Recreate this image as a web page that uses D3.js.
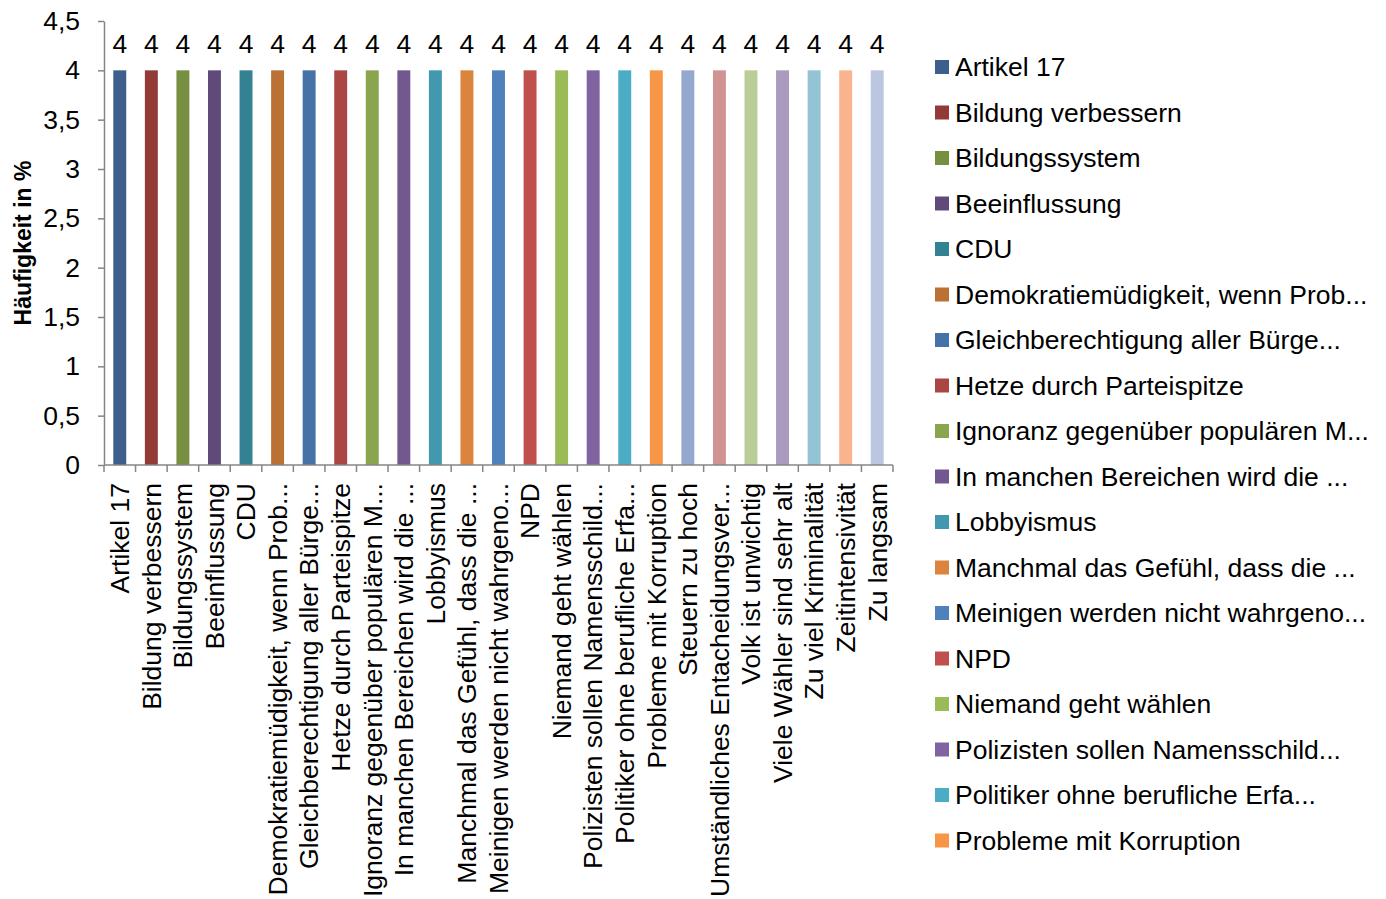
<!DOCTYPE html>
<html>
<head>
<meta charset="utf-8">
<script src="https://cdn.jsdelivr.net/npm/d3@7"></script>
<style>
  body { margin: 0; background: #fff; }
  svg { font-family: "Liberation Sans", Arial, sans-serif; }
</style>
</head>
<body>
<div id="chart"></div>
<script>
(function(){

  // categories as shown on the axis (Excel truncated the long ones)
  var categories = [
    "Artikel 17", "Bildung verbessern", "Bildungssystem", "Beeinflussung", "CDU",
    "Demokratiemüdigkeit, wenn Prob...", "Gleichberechtigung aller Bürge...",
    "Hetze durch Parteispitze", "Ignoranz gegenüber populären M...",
    "In manchen Bereichen wird die ...", "Lobbyismus", "Manchmal das Gefühl, dass die ...",
    "Meinigen werden nicht wahrgeno...", "NPD", "Niemand geht wählen",
    "Polizisten sollen Namensschild...", "Politiker ohne berufliche Erfa...",
    "Probleme mit Korruption", "Steuern zu hoch", "Umständliches Entacheidungsver...",
    "Volk ist unwichtig", "Viele Wähler sind sehr alt", "Zu viel Kriminalität",
    "Zeitintensivität", "Zu langsam"
  ];
  var values = [4, 4, 4, 4, 4, 4, 4, 4, 4, 4, 4, 4, 4, 4, 4, 4, 4, 4, 4, 4, 4, 4, 4, 4, 4];
  var colors = [
    "#3c5f8c", "#923a38", "#778f40", "#5f4a7a", "#358194",
    "#ba7133", "#4572a7", "#aa4643", "#89a54e", "#71588f",
    "#4198af", "#db843d", "#4f81bd", "#c0504d", "#9bbb59",
    "#8064a2", "#4bacc6", "#f79646", "#95a9d0", "#d19392",
    "#bacd96", "#aa9abd", "#93c3d4", "#f9b48d", "#bbc7e0"
  ];
  var yTicks = [0, 0.5, 1, 1.5, 2, 2.5, 3, 3.5, 4, 4.5];
  var legendCount = 18; // only the first 18 entries fit in the legend

  var fontSize = "26.5px";

  var margin = {top: 21, left: 104},
      width = 893 - 104,
      height = 465 - 21;

  var svg = d3.select("#chart").append("svg")
      .attr("width", 1386)
      .attr("height", 899);

  var g = svg.append("g")
      .attr("transform", "translate(" + margin.left + "," + margin.top + ")");

  var x = d3.scaleBand().domain(categories).range([0, width]).paddingInner(0).paddingOuter(0);
  var y = d3.scaleLinear().domain([0, 4.5]).range([height, 0]);
  var color = d3.scaleOrdinal().domain(categories).range(colors);

  var fmt = function(d) { return String(d).replace(".", ","); };

  // bars
  var barW = x.bandwidth() * 0.41;
  g.selectAll(".bar")
      .data(categories)
    .enter().append("rect")
      .attr("class", "bar")
      .attr("x", function(d) { return x(d) + (x.bandwidth() - barW) / 2; })
      .attr("y", function(d, i) { return y(values[i]); })
      .attr("width", barW)
      .attr("height", function(d, i) { return height - y(values[i]); })
      .attr("fill", function(d) { return color(d); });

  // data labels
  g.selectAll(".lbl")
      .data(categories)
    .enter().append("text")
      .attr("class", "lbl")
      .attr("x", function(d) { return x(d) + x.bandwidth() / 2; })
      .attr("y", function(d, i) { return y(values[i]) - 17; })
      .attr("text-anchor", "middle")
      .style("font-size", fontSize)
      .attr("fill", "#000")
      .text(function(d, i) { return fmt(values[i]); });

  // y axis
  var yAxis = g.append("g")
      .call(d3.axisLeft(y).tickValues(yTicks).tickFormat(fmt).tickSize(6).tickSizeOuter(0).tickPadding(18));
  yAxis.select(".domain").attr("stroke", "#868686").attr("stroke-width", 1.5);
  yAxis.selectAll(".tick line").attr("stroke", "#868686").attr("stroke-width", 1.5);
  yAxis.selectAll(".tick text").style("font-size", fontSize).attr("fill", "#000");

  // x axis: line plus ticks on band boundaries
  var xa = g.append("g").attr("transform", "translate(0," + height + ")");
  xa.append("line")
      .attr("x1", 0).attr("x2", width)
      .attr("stroke", "#868686").attr("stroke-width", 1.5);
  var bounds = categories.map(function(d) { return x(d); }).concat([width]);
  xa.selectAll(".xt")
      .data(bounds)
    .enter().append("line")
      .attr("x1", function(d) { return d; }).attr("x2", function(d) { return d; })
      .attr("y1", 0).attr("y2", 7)
      .attr("stroke", "#868686").attr("stroke-width", 1.5);

  xa.selectAll(".xl")
      .data(categories)
    .enter().append("text")
      .attr("transform", function(d) {
        return "translate(" + (x(d) + x.bandwidth() / 2) + ",18) rotate(-90)";
      })
      .attr("text-anchor", "end")
      .attr("dy", "0.35em")
      .style("font-size", fontSize)
      .attr("fill", "#000")
      .text(function(d) { return d; });

  // y axis title
  svg.append("text")
      .attr("transform", "translate(31," + (margin.top + height / 2) + ") rotate(-90)")
      .attr("text-anchor", "middle")
      .style("font-size", "23px")
      .style("font-weight", "bold")
      .attr("fill", "#000")
      .text("Häufigkeit in %");

  // legend
  var legend = svg.append("g").attr("transform", "translate(935,67)");
  var items = legend.selectAll(".item")
      .data(categories.slice(0, legendCount))
    .enter().append("g")
      .attr("transform", function(d, i) { return "translate(0," + (i * 45.5) + ")"; });
  items.append("rect")
      .attr("x", 0).attr("y", -7)
      .attr("width", 14).attr("height", 14)
      .attr("fill", function(d) { return color(d); });
  items.append("text")
      .attr("x", 20)
      .attr("dy", "0.35em")
      .style("font-size", fontSize)
      .attr("fill", "#000")
      .text(function(d) { return d; });

})();
</script>
</body>
</html>
